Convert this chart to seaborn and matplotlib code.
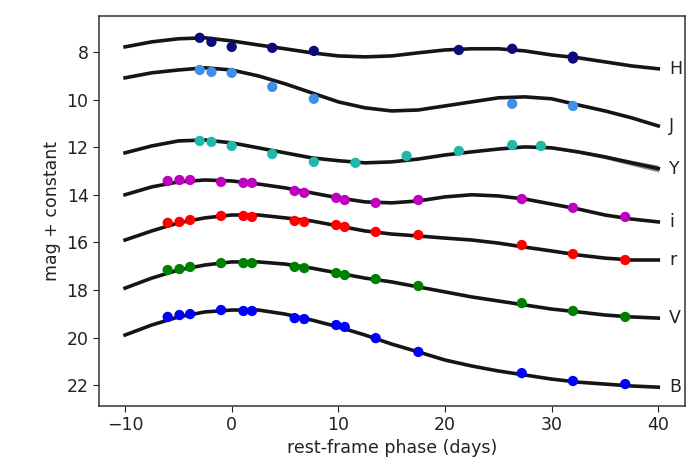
import numpy as np
import pandas as pd
import matplotlib
matplotlib.use("Agg")
import matplotlib.pyplot as plt
import seaborn as sns

# ---- data ----
bands = ["H", "J", "Y", "i", "r", "V", "B"]
band_colors = {"H": "#0a0a78", "J": "#3f8fe6", "Y": "#20b8aa", "i": "#bf00bf",
               "r": "#ff0000", "V": "#008000", "B": "#0000ff"}

# model curve sampled every 2.5 days
curve_phase = [-10, -7.5, -5, -2.5, 0, 2.5, 5, 7.5, 10, 12.5, 15, 17.5, 20,
               22.5, 25, 27.5, 30, 32.5, 35, 37.5, 40]
curve_H = [7.79, 7.58, 7.45, 7.41, 7.54, 7.71, 7.87, 8.04, 8.17, 8.21, 8.17,
           8.04, 7.92, 7.87, 7.87, 7.96, 8.13, 8.25, 8.42, 8.59, 8.71]
curve_J = [9.09, 8.88, 8.76, 8.67, 8.76, 9.01, 9.34, 9.72, 10.10, 10.35, 10.48,
           10.44, 10.27, 10.10, 9.93, 9.89, 9.97, 10.23, 10.48, 10.77, 11.11]
curve_Y = [12.24, 11.95, 11.74, 11.70, 11.82, 12.03, 12.24, 12.45, 12.57, 12.66,
           12.62, 12.50, 12.33, 12.20, 12.08, 11.99, 12.03, 12.20, 12.41, 12.66, 12.90]
curve_i = [14.00, 13.67, 13.46, 13.38, 13.42, 13.55, 13.71, 13.92, 14.13, 14.30,
           14.34, 14.26, 14.09, 14.00, 14.05, 14.18, 14.39, 14.60, 14.85, 15.02, 15.14]
curve_r = [15.90, 15.52, 15.18, 14.97, 14.85, 14.85, 14.97, 15.10, 15.31, 15.52,
           15.65, 15.73, 15.82, 15.90, 16.03, 16.20, 16.36, 16.53, 16.66, 16.74, 16.74]
curve_V = [17.92, 17.50, 17.16, 16.95, 16.82, 16.82, 16.91, 17.08, 17.29, 17.50,
           17.66, 17.87, 18.08, 18.29, 18.46, 18.63, 18.80, 18.92, 19.05, 19.13, 19.18]
curve_B = [19.89, 19.47, 19.13, 18.92, 18.84, 18.84, 19.01, 19.26, 19.55, 19.89,
           20.27, 20.60, 20.94, 21.19, 21.40, 21.57, 21.74, 21.87, 21.95, 22.03, 22.08]
# model uncertainty (half-width) for Y band
curve_Y_err = [0.03, 0.02, 0.02, 0.02, 0.02, 0.02, 0.02, 0.02, 0.02, 0.02, 0.02,
               0.02, 0.02, 0.02, 0.03, 0.03, 0.04, 0.06, 0.08, 0.11, 0.14]

# observed photometry
nir_phase_H = [-3.0, -1.9, 0.0, 3.8, 7.7, 21.3, 26.3, 32.0, 32.0]
nir_mag_H = [7.41, 7.58, 7.79, 7.83, 7.96, 7.92, 7.87, 8.20, 8.28]
nir_phase_J = [-3.0, -1.9, 0.0, 3.8, 7.7, 26.3, 32.0]
nir_mag_J = [8.76, 8.84, 8.88, 9.47, 9.97, 10.18, 10.27]
nir_phase_Y = [-3.0, -1.9, 0.0, 3.8, 7.7, 11.6, 16.4, 21.3, 26.3, 29.0]
nir_mag_Y = [11.74, 11.78, 11.95, 12.29, 12.62, 12.66, 12.37, 12.16, 11.91, 11.95]

opt_phase = [-6.0, -4.9, -3.9, -1.0, 1.1, 1.9, 5.9, 6.8, 9.8, 10.6, 13.5,
             17.5, 27.2, 32.0, 36.9]
opt_mag_i = [13.42, 13.38, 13.38, 13.46, 13.50, 13.50, 13.84, 13.92, 14.13,
             14.22, 14.34, 14.22, 14.18, 14.55, 14.93]
opt_mag_r = [15.18, 15.14, 15.06, 14.89, 14.89, 14.93, 15.10, 15.14, 15.27,
             15.35, 15.56, 15.69, 16.11, 16.49, 16.74]
opt_mag_V = [17.16, 17.12, 17.03, 16.87, 16.87, 16.87, 17.03, 17.08, 17.29,
             17.37, 17.54, 17.83, 18.55, 18.88, 19.13]
opt_mag_B = [19.13, 19.05, 19.01, 18.84, 18.88, 18.88, 19.18, 19.22, 19.47,
             19.55, 20.02, 20.60, 21.49, 21.82, 21.95]

curves = {"H": curve_H, "J": curve_J, "Y": curve_Y, "i": curve_i,
          "r": curve_r, "V": curve_V, "B": curve_B}
points = {"H": (nir_phase_H, nir_mag_H), "J": (nir_phase_J, nir_mag_J),
          "Y": (nir_phase_Y, nir_mag_Y), "i": (opt_phase, opt_mag_i),
          "r": (opt_phase, opt_mag_r), "V": (opt_phase, opt_mag_V),
          "B": (opt_phase, opt_mag_B)}

curve_df = pd.concat([pd.DataFrame({"phase": curve_phase, "mag": curves[b], "band": b})
                      for b in bands], ignore_index=True)
point_df = pd.concat([pd.DataFrame({"phase": points[b][0], "mag": points[b][1], "band": b})
                      for b in bands], ignore_index=True)

# ---- plot ----
plt.rcParams["font.family"] = ["DejaVu Sans"]
fig = plt.figure(figsize=(6.87, 4.68), dpi=100)
ax = fig.add_axes([0.144, 0.1325, 0.853, 0.8335])

ax.fill_between(curve_phase, np.array(curve_Y) - np.array(curve_Y_err),
                np.array(curve_Y) + np.array(curve_Y_err), color="0.55", lw=0, zorder=1)

sns.lineplot(data=curve_df, x="phase", y="mag", units="band", estimator=None,
             color="#151515", lw=2.6, ax=ax, zorder=2, sort=False)
sns.scatterplot(data=point_df, x="phase", y="mag", hue="band", palette=band_colors,
                s=55, edgecolor="none", legend=False, ax=ax, zorder=3)

for b in bands:
    ax.text(41.0, curves[b][-1], b, ha="left", va="center", fontsize=12.5, color="#222222")

ax.set_xlim(-12.45, 42.5)
ax.set_ylim(22.87, 6.49)
ax.set_xticks([-10, 0, 10, 20, 30, 40])
ax.set_yticks([8, 10, 12, 14, 16, 18, 20, 22])
ax.tick_params(labelsize=12.5, colors="#222222", length=4)
ax.set_xlabel("rest-frame phase (days)", fontsize=12.5, color="#222222", labelpad=3)
ax.set_ylabel("mag + constant", fontsize=12.5, color="#222222", labelpad=4)
for s in ax.spines.values():
    s.set_color("#333333")
    s.set_linewidth(1.1)

fig.savefig("out.png", dpi=100)
